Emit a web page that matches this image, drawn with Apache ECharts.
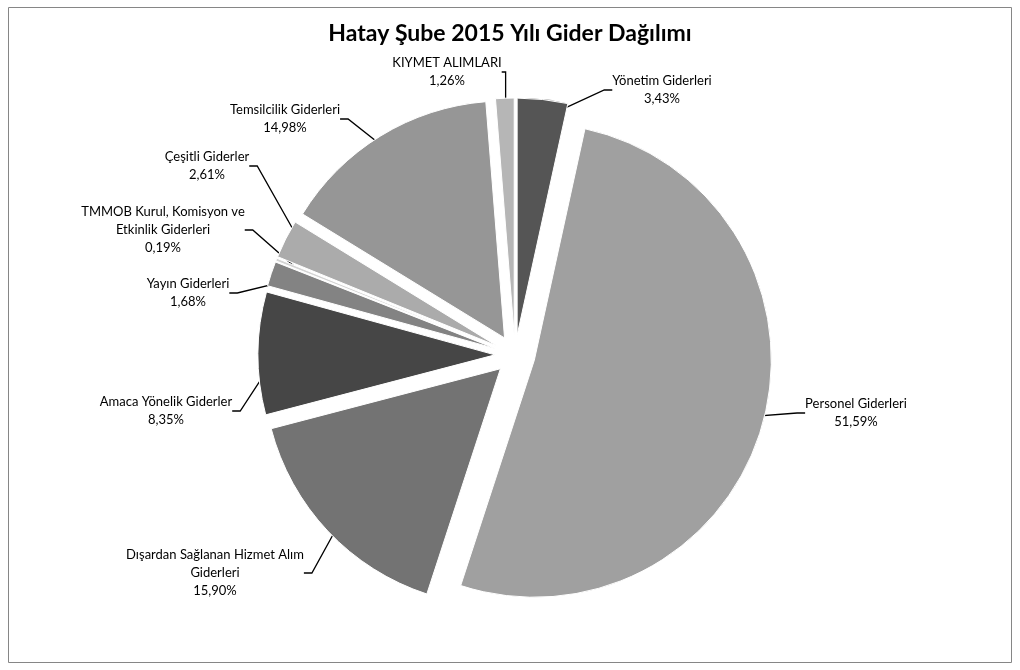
<!DOCTYPE html>
<html><head><meta charset="utf-8">
<script src="https://cdn.jsdelivr.net/npm/echarts@6/dist/echarts.min.js"></script>
<style>html,body{margin:0;padding:0;background:#fff}#c{width:1020px;height:670px}</style>
</head><body><div id="c"></div>
<script>
const categories = ["Yönetim Giderleri","Personel Giderleri","Dışardan Sağlanan Hizmet Alım\nGiderleri","Amaca Yönelik Giderler","Yayın Giderleri","TMMOB Kurul, Komisyon ve\nEtkinlik Giderleri","Çeşitli Giderler","Temsilcilik Giderleri","KIYMET ALIMLARI"];
const values = [3.43, 51.59, 15.90, 8.35, 1.68, 0.19, 2.61, 14.98, 1.26];
const colors = ["#555555","#a0a0a0","#737373","#464646","#838383","#d4d4d4","#ababab","#969696","#b6b6b6"];
const labelPos = [[662,90],[856,413],[215,573],[166,411],[188,293],[163,230],[207,166],[285,119],[447,72]];

const pieBase = {type:'pie',center:[515,355],radius:237,startAngle:90,clockwise:true,emphasis:{disabled:true}};

const chart = echarts.init(document.getElementById('c'));
chart.setOption({
  animation:false,
  title:{text:"Hatay Şube 2015 Yılı Gider Dağılımı",left:'center',top:17,
    textStyle:{fontFamily:'Lato',fontWeight:'bold',fontSize:23,color:'#000'}},
  graphic:[{type:'rect',shape:{x:8.5,y:7.5,width:1003,height:655},style:{fill:null,stroke:'#868686',lineWidth:1},silent:true,z:-1}],
  series:[
  Object.assign({}, pieBase, {
    name:'labels', z:1,
    silent:true,
    avoidLabelOverlap:false,
    itemStyle:{color:'rgba(0,0,0,0)',borderWidth:0},
    label:{show:true,fontFamily:'Lato',fontSize:13,color:'#000',lineHeight:18,align:'center',
      formatter:p=>p.name+'\n'+p.value.toFixed(2).replace('.',',')+'%'},
    labelLine:{show:true,lineStyle:{color:'#000',width:1.3},length:15,length2:8},
    labelLayout:function(p){
      const pos=labelPos[p.dataIndex];
      return {x:pos[0],y:pos[1],align:'center',verticalAlign:'middle'};
    },
    data:categories.map((n,i)=>({name:n,value:values[i]}))
  }),
  Object.assign({}, pieBase, {
    name:'slices', z:3,
    selectedMode:'multiple',
    selectedOffset:20,
    itemStyle:{borderColor:'#fff',borderWidth:1},
    label:{show:false},
    labelLine:{show:false},
    data:categories.map((n,i)=>({name:n,value:values[i],selected:true,itemStyle:{color:colors[i]}}))
  })]
});
</script></body></html>
